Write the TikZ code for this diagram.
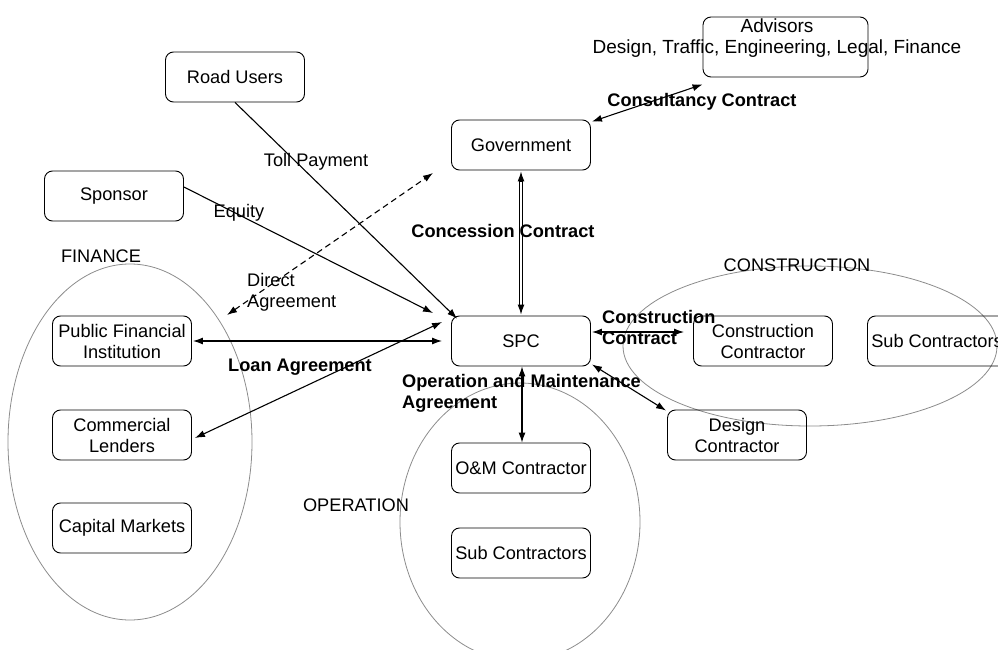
\documentclass[tikz,border=0pt]{standalone}
\usepackage{fontspec}
\setmainfont{Liberation Sans}
\usetikzlibrary{arrows.meta,calc}
\begin{document}
\begin{tikzpicture}[x=1pt,y=-1pt,
  every node/.style={font=\fontsize{18.2}{21}\selectfont},
  box/.style={draw, line width=0.9pt, rounded corners=8pt, minimum width=139pt, minimum height=50pt, align=center, inner sep=1pt},
  grp/.style={draw=gray!90, line width=0.8pt},
  arr/.style={line width=1.1pt, -{Latex[length=10pt,width=7pt]}},
  darr/.style={line width=1.1pt, {Latex[length=10pt,width=7pt]}-{Latex[length=10pt,width=7pt]}},
  lbl/.style={inner sep=0pt},
  blbl/.style={inner sep=0pt, font=\fontsize{18.2}{21}\selectfont\bfseries}]
\useasboundingbox (0,0) rectangle (998,650);
% group ellipses
\draw[grp] (130,442) ellipse [x radius=122, y radius=178];
\draw[grp] (520,522) ellipse [x radius=120, y radius=139];
\draw[grp] (810,346) ellipse [x radius=187, y radius=80];
\node[lbl] (finl) at (101,256) {FINANCE};
\node[lbl] (conl) at (797,265) {CONSTRUCTION};
\node[lbl] (opl) at (356,505) {OPERATION};
% boxes
\node[box] (ru) at (235,77) {Road Users};
\node[box, minimum width=165pt, minimum height=60pt] (adv) at (785.5,47) {};
\node[lbl, align=center, font=\fontsize{19}{21}\selectfont] (advt) at (777,38) {Advisors\\Design, Traffic, Engineering, Legal, Finance};
\node[box] (gov) at (521,145) {Government};
\node[box] (sp) at (114,196) {Sponsor};
\node[box] (spc) at (521,341) {SPC};
\node[box] (pfi) at (122,341) {Public Financial\\Institution};
\node[box] (cl) at (122,435) {Commercial\\Lenders};
\node[box] (cm) at (122,528) {Capital Markets};
\node[box] (cc) at (763,341) {Construction\\Contractor};
\node[box] (scr) at (937,341) {Sub Contractors};
\node[box] (dc) at (737,435) {Design\\Contractor};
\node[box] (om) at (521,468) {O\&M Contractor};
\node[box] (scb) at (521,553) {Sub Contractors};
% free ends
\coordinate (eqend) at (433,313);
\coordinate (daL) at (227,315);
\coordinate (daR) at (433,173);
% connectors
\draw[darr] ([yshift=-7pt]adv.south west) -- ([xshift=1pt,yshift=-2pt]gov.north east);
\draw[line width=0.9pt, double, double distance=2.5pt, shorten <=9pt, shorten >=9pt] (gov.south) -- (spc.north);
\draw[arr] ($(gov.south)+(0,11)$) -- ([yshift=-1pt]gov.south);
\draw[arr] ($(spc.north)+(0,-11)$) -- ([yshift=1pt]spc.north);
\draw[arr] (ru.south) -- ([xshift=6pt,yshift=-3pt]spc.north west);
\draw[arr] ([yshift=9pt]sp.east) -- (eqend);
\draw[line width=1.1pt, dash pattern=on 6pt off 4pt, {Latex[length=10pt,width=7pt]}-{Latex[length=10pt,width=7pt]}] (daL) -- (daR);
\draw[darr] ([xshift=1pt]pfi.east) -- ([xshift=-9pt]spc.west);
\draw[darr] ([xshift=3pt,yshift=-3pt]cl.east) -- ([xshift=-9pt,yshift=19pt]spc.west);
\draw[darr] ([xshift=1pt]spc.south) -- ([xshift=1pt]om.north);
\draw[darr] ([xshift=1pt,yshift=9pt]spc.east) -- ([xshift=-9pt,yshift=9pt]cc.west);
\draw[darr] ([xshift=1pt,yshift=2pt]spc.south east) -- ([xshift=-1pt,yshift=-1pt]dc.north west);
% labels
\node[lbl] (tollp) at (316,162) {Toll Payment};
\node[lbl] (eqt) at (239,213) {Equity};
\node[lbl, anchor=west, align=left] (dat) at (247,292) {Direct\\Agreement};
\node[blbl] (loan) at (300,367) {Loan Agreement};
\node[blbl] (conc) at (503,231) {Concession Contract};
\node[blbl] (cons) at (702,102) {Consultancy Contract};
\node[blbl, anchor=west, align=left] (cct) at (602,327) {Construction\\Contract};
\node[blbl, anchor=west, align=left] (oma) at (402,393) {Operation and Maintenance\\Agreement};
\end{tikzpicture}
\end{document}
